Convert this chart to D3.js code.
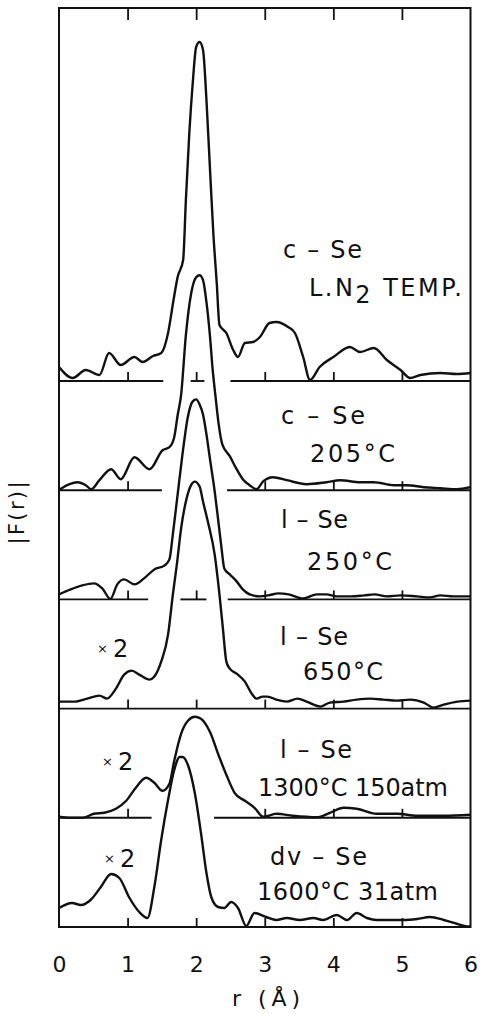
<!DOCTYPE html>
<html>
<head>
<meta charset="utf-8">
<script src="https://cdn.jsdelivr.net/npm/d3@7"></script>
<style>
  body { margin: 0; background: #fff; }
  text { font-family: "DejaVu Sans", sans-serif; fill: #111; }
</style>
</head>
<body>
<div class="chart"></div>
<script>
// r axis ticks (Angstrom)
var rTicks = [0, 1, 2, 3, 4, 5, 6];
var innerTicks = [1, 2, 3, 4, 5];

// |F(r)| traces, [r, height above own baseline] (arb. units)
var cseLN2 = [[0,1.4],[0.2,0.3],[0.39,1.1],[0.59,0.6],[0.73,2.8],[0.9,1.6],[1.1,2.4],[1.22,1.9],[1.37,2.5],[1.49,2.8],
  [1.59,4.8],[1.67,8.1],[1.73,10.4],[1.81,12.1],[1.85,18.1],[1.9,24.8],[1.95,29.8],[2.0,33.4],[2.05,33.9],[2.1,33.1],
  [2.15,28.1],[2.2,21.4],[2.25,14.8],[2.3,9.8],[2.34,5.6],[2.44,4.8],[2.54,3.1],[2.61,2.4],[2.71,3.8],[2.83,3.9],
  [2.93,4.4],[3.07,5.8],[3.17,5.9],[3.34,5.4],[3.44,4.8],[3.56,2.4],[3.66,0.1],[3.8,1.4],[4.0,2.4],[4.24,3.4],
  [4.39,2.9],[4.59,3.3],[4.78,2.1],[4.98,1.1],[5.12,0.3],[5.27,0.6],[5.56,0.8],[5.8,0.7],[6,0.8]];
var cse205 = [[0,0],[0.12,0.5],[0.27,0.8],[0.39,0.5],[0.47,0.1],[0.59,1.0],[0.76,2.1],[0.9,1.1],[1.1,3.3],[1.32,2.1],
  [1.51,4.0],[1.61,4.3],[1.68,5.3],[1.73,7.5],[1.78,9.5],[1.85,15.5],[1.93,19.8],[2.0,21.3],[2.05,21.5],[2.1,21.0],
  [2.15,18.8],[2.2,15.5],[2.24,12.1],[2.28,9.5],[2.33,6.5],[2.38,4.6],[2.49,3.4],[2.59,2.1],[2.68,1.1],[2.78,0.5],
  [2.88,0.1],[2.98,0.9],[3.12,1.3],[3.32,1.0],[3.61,0.6],[3.9,0.8],[4.1,1.0],[4.39,0.8],[4.59,0.8],[4.88,0.5],
  [5.07,0.5],[5.32,0.3],[5.56,0.2],[5.8,0.1],[6,0.3]];
var lse250 = [[0,0.5],[0.17,1.0],[0.34,1.4],[0.51,1.6],[0.63,1.1],[0.75,0.05],[0.85,1.5],[0.95,2.0],[1.1,1.5],[1.24,2.1],
  [1.39,3.0],[1.54,3.4],[1.61,4.0],[1.66,6.5],[1.73,10.5],[1.8,14.5],[1.88,18.3],[1.95,19.8],[2.0,20.0],[2.05,19.5],
  [2.1,18.5],[2.15,16.5],[2.2,14.1],[2.27,10.8],[2.32,8.0],[2.37,5.1],[2.41,3.1],[2.49,2.5],[2.59,1.8],[2.68,1.0],
  [2.78,0.5],[2.93,0.3],[3.05,0.4],[3.2,0.6],[3.35,0.5],[3.56,0.1],[3.76,0.5],[3.9,0.5],[4.05,0.3],[4.25,0.3],
  [4.45,0.4],[4.6,0.5],[4.78,0.3],[4.98,0.4],[5.22,0.3],[5.41,0.2],[5.56,0.4],[5.75,0.3],[6,0.3]];
var lse650 = [[0,0.7],[0.22,0.7],[0.41,1.0],[0.59,1.3],[0.7,1.0],[0.83,2.0],[0.95,3.4],[1.06,3.8],[1.17,3.4],[1.32,2.9],
  [1.39,3.2],[1.49,4.7],[1.59,7.4],[1.66,11.4],[1.72,14.5],[1.78,18.0],[1.86,21.0],[1.93,22.4],[1.98,22.7],[2.05,22.2],
  [2.1,20.7],[2.17,18.7],[2.27,15.4],[2.34,11.4],[2.39,8.0],[2.44,4.7],[2.49,4.0],[2.59,3.5],[2.71,2.7],[2.81,1.5],
  [2.88,1.0],[2.97,1.2],[3.04,1.2],[3.17,0.9],[3.32,0.7],[3.48,1.0],[3.61,0.7],[3.81,0.2],[3.95,0.6],[4.15,0.7],
  [4.34,0.9],[4.54,1.0],[4.73,0.9],[4.93,0.8],[5.12,0.9],[5.32,0.6],[5.46,0.1],[5.61,0.4],[5.81,0.7],[6,0.8]];
var lse1300 = [[0,0.1],[0.17,0],[0.34,0],[0.51,0.4],[0.66,0.5],[0.83,0.9],[0.98,1.7],[1.12,3.0],[1.27,4.0],[1.39,3.5],
  [1.51,2.7],[1.61,3.4],[1.68,5.7],[1.78,8.4],[1.88,9.7],[1.98,10.1],[2.07,9.9],[2.2,8.6],[2.33,6.2],[2.44,4.3],
  [2.56,2.5],[2.71,1.7],[2.85,1.0],[2.98,0.1],[3.17,0.4],[3.41,0.2],[3.76,0.05],[3.95,0.5],[4.15,1.0],[4.34,0.9],
  [4.63,0.4],[4.93,0.4],[5.22,0.2],[5.61,0.2],[6,0.3]];
var dvse1600 = [[0,1.9],[0.19,2.4],[0.32,2.2],[0.46,2.7],[0.61,4.0],[0.76,5.3],[0.88,4.9],[1.02,3.0],[1.17,1.5],[1.29,0.9],
  [1.39,4.0],[1.49,8.7],[1.59,12.7],[1.68,15.7],[1.76,17.0],[1.8,17.0],[1.88,16.2],[1.98,13.4],[2.07,9.4],[2.15,5.4],
  [2.22,3.0],[2.32,2.0],[2.41,1.9],[2.51,2.5],[2.61,1.9],[2.73,0.1],[2.85,1.4],[3.02,1.0],[3.17,0.7],[3.32,0.9],
  [3.51,0.7],[3.71,0.9],[3.85,0.7],[4.05,1.2],[4.2,0.7],[4.34,1.4],[4.49,0.9],[4.63,0.7],[4.83,0.7],[5.02,0.7],
  [5.22,0.8],[5.41,1.0],[5.61,0.7],[5.81,0.3],[5.95,0.05],[6,0.05]];

var curves = [cseLN2, cse205, lse250, lse650, lse1300, dvse1600];
var sampleNames = ["c – Se", "c – Se", "l – Se", "l – Se", "l – Se", "dv – Se"];
var conditions = ["L.N|2| TEMP.", "205°C", "250°C", "650°C", "1300°C 150atm", "1600°C 31atm"];
var magnification = ["", "", "", "2", "2", "2"];
// stretches of each panel's zero line that are drawn (r ranges)
var baselineSegments = [
  [[0,1.52],[1.92,2.12],[2.5,6]],
  [[0,1.5],[2.45,6]],
  [[0,1.3],[1.77,2.15],[2.46,6]],
  [[0,6]],
  [[0,1.35],[2.26,6]],
  [[0,6]]
];

var svgWidth = 483;
var svgHeight = 1014;
var panelStep = 10.92;   // offset between stacked traces, in F units
var topUnits = 91.9;

var svg = d3.select(".chart")
  .append("svg")
  .attr("width", svgWidth)
  .attr("height", svgHeight);

var x = d3.scaleLinear().domain([0, 6]).range([59, 470.5]);
var y = d3.scaleLinear().domain([0, topUnits]).range([927, 8]);

var nPanels = curves.length;
function offsetOf(i) { return (nPanels - 1 - i) * panelStep; }

// frame
svg.append("rect")
  .attr("x", x(0))
  .attr("y", y(topUnits))
  .attr("width", x(6) - x(0))
  .attr("height", y(0) - y(topUnits))
  .attr("fill", "none")
  .attr("stroke", "#111")
  .attr("stroke-width", 2);

// top ticks pointing down
var topAxis = svg.append("g")
  .attr("transform", `translate(0, ${y(topUnits)})`)
  .call(d3.axisTop(x).tickValues(innerTicks).tickSize(-12).tickFormat(""));
topAxis.select(".domain").remove();
topAxis.selectAll("line").attr("stroke", "#111").attr("stroke-width", 1.8);

// bottom tick labels
var bottomAxis = svg.append("g")
  .attr("transform", `translate(0, ${y(0)})`)
  .call(d3.axisBottom(x).tickValues(rTicks).tickSize(0).tickPadding(29).tickFormat(d3.format("d")));
bottomAxis.select(".domain").remove();
bottomAxis.selectAll("text")
  .attr("font-size", 22)
  .attr("font-family", "DejaVu Sans, sans-serif")
  .attr("fill", "#111");

// baselines with up ticks
baselineSegments.forEach(function (segs, i) {
  var by = y(offsetOf(i));
  var g = svg.append("g");
  g.selectAll("line.base")
    .data(segs)
    .enter()
    .append("line")
    .attr("x1", d => x(d[0]))
    .attr("x2", d => x(d[1]))
    .attr("y1", by)
    .attr("y2", by)
    .attr("stroke", "#111")
    .attr("stroke-width", 1.9);
  var ticks = innerTicks.filter(t => segs.some(s => t >= s[0] && t <= s[1]));
  var ax = svg.append("g")
    .attr("transform", `translate(0, ${by})`)
    .call(d3.axisBottom(x).tickValues(ticks).tickSize(-9).tickFormat(""));
  ax.select(".domain").remove();
  ax.selectAll("line").attr("stroke", "#111").attr("stroke-width", 1.8);
});

// traces
var line = d3.line()
  .x(d => x(d[0]))
  .y(d => y(d[1]))
  .curve(d3.curveMonotoneX);

curves.forEach(function (c, i) {
  var off = offsetOf(i);
  svg.append("path")
    .datum(c.map(p => [p[0], p[1] + off]))
    .attr("d", line)
    .attr("fill", "none")
    .attr("stroke", "#111")
    .attr("stroke-width", 2.4)
    .attr("stroke-linejoin", "round");
});

// panel labels
var labelLayout = [
  { x1: 283, y1: -123, w1: 79, x2: 309, y2: -85, w2: 153 },
  { x1: 281, y1: -66, w1: 84, x2: 310, y2: -28, w2: 85 },
  { x1: 281, y1: -71, w1: 67, x2: 307, y2: -29, w2: 85 },
  { x1: 280, y1: -64, w1: 68, x2: 303, y2: -29, w2: 80 },
  { x1: 280, y1: -60, w1: 72, x2: 258, y2: -22, w2: 190 },
  { x1: 270, y1: -62, w1: 97, x2: 257, y2: -27, w2: 181 }
];
var magLayout = [null, null, null, { x: 97, y: -52 }, { x: 102, y: -48 }, { x: 104, y: -60 }];

sampleNames.forEach(function (name, i) {
  var by = y(offsetOf(i));
  var L = labelLayout[i];
  svg.append("text")
    .attr("x", L.x1)
    .attr("y", by + L.y1)
    .attr("font-size", 24)
    .attr("textLength", L.w1)
    .attr("lengthAdjust", "spacing")
    .text(name);

  var t2 = svg.append("text")
    .attr("x", L.x2)
    .attr("y", by + L.y2)
    .attr("font-size", 24)
    .attr("textLength", L.w2)
    .attr("lengthAdjust", "spacing");
  var parts = conditions[i].split("|");
  if (parts.length === 3) {
    t2.append("tspan").text(parts[0]);
    t2.append("tspan").attr("dy", 7).text(parts[1]);
    t2.append("tspan").attr("dy", -7).text(parts[2]);
  } else {
    t2.text(conditions[i]);
  }

  if (magnification[i]) {
    var M = magLayout[i];
    var t3 = svg.append("text")
      .attr("x", M.x)
      .attr("y", by + M.y);
    t3.append("tspan").attr("font-size", 13).attr("dy", -4).text("×");
    t3.append("tspan").attr("font-size", 24).attr("dx", 5).attr("dy", 4).text(magnification[i]);
  }
});

// axis titles
svg.append("text")
  .attr("x", 266)
  .attr("y", 1006)
  .attr("text-anchor", "middle")
  .attr("font-size", 22)
  .attr("textLength", 68)
  .attr("lengthAdjust", "spacing")
  .text("r (Å)");

svg.append("text")
  .attr("transform", "translate(24, 513) rotate(-90)")
  .attr("text-anchor", "middle")
  .attr("font-size", 21)
  .attr("textLength", 63)
  .attr("lengthAdjust", "spacing")
  .text("|F(r)|");
</script>
</body>
</html>
